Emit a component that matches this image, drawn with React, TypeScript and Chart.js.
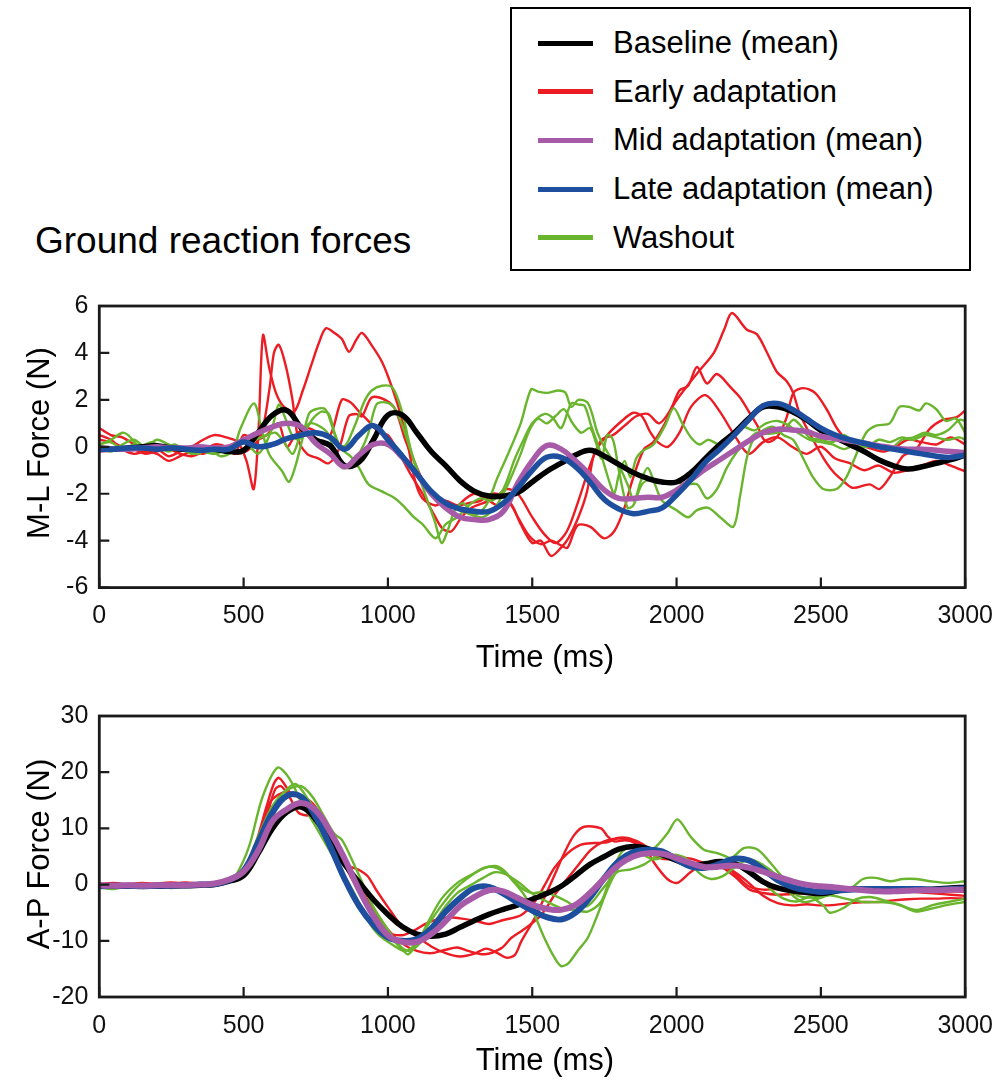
import React, { useEffect, useRef } from "react";
import { Chart, registerables } from "chart.js";
Chart.register(...registerables);

const FONT = "'Liberation Sans', Arial, Helvetica, sans-serif";

const TIME_MS = [0, 50, 100, 150, 200, 250, 300, 350, 400, 450, 500, 550, 600, 650, 700, 750, 800, 850, 900, 950,
  1000, 1050, 1100, 1150, 1200, 1250, 1300, 1350, 1400, 1450, 1500, 1550, 1600, 1650, 1700, 1750, 1800, 1850, 1900, 1950,
  2000, 2050, 2100, 2150, 2200, 2250, 2300, 2350, 2400, 2450, 2500, 2550, 2600, 2650, 2700, 2750, 2800, 2850, 2900, 2950, 3000];

const X_TICKS = [0, 500, 1000, 1500, 2000, 2500, 3000];
const ML_TICKS = [-6, -4, -2, 0, 2, 4, 6];
const AP_TICKS = [-20, -10, 0, 10, 20, 30];

const LEGEND_LABELS = ["Baseline (mean)", "Early adaptation", "Mid adaptation (mean)", "Late adaptation (mean)", "Washout"];
const COLORS = { base: "#000000", early: "#ec1c24", mid: "#a65aa8", late: "#1e4f9f", wash: "#6ab52e" };

// ---------- M-L force (N) ----------
const ML_BASELINE = [-0.05, -0.1, -0.05, 0, 0.05, -0.05, -0.1, -0.05, -0.1, -0.2, -0.15, 0.6, 1.35, 1.55, 0.8, 0.3, 0.05, -0.8, -0.65, 0.3,
  1.35, 1.35, 0.6, -0.2, -0.8, -1.45, -1.9, -2.1, -2.1, -1.95, -1.5, -1.05, -0.7, -0.35, -0.15, -0.4, -0.75, -1.1, -1.35, -1.5,
  -1.5, -1.1, -0.5, 0.1, 0.6, 1.2, 1.7, 1.7, 1.5, 1.15, 0.7, 0.4, 0.1, -0.2, -0.55, -0.8, -0.95, -0.85, -0.7, -0.55, -0.35];
const ML_MID = [-0.15, -0.1, -0.1, -0.05, 0, -0.05, -0.05, 0, -0.05, 0, 0.3, 0.6, 0.85, 1.0, 0.85, 0.15, -0.3, -0.85, -0.35, 0.1,
  0.1, -0.45, -1.15, -2.0, -2.6, -3.0, -3.1, -3.1, -2.75, -1.55, -0.6, 0.05, -0.1, -0.6, -1.2, -1.85, -2.2, -2.2, -2.15, -2.15,
  -1.85, -1.4, -0.95, -0.55, -0.15, 0.25, 0.6, 0.75, 0.72, 0.65, 0.45, 0.35, 0.25, 0.15, 0.05, -0.05, -0.1, -0.1, -0.15, -0.2, -0.25];
const ML_LATE = [-0.1, -0.1, -0.05, -0.05, -0.1, -0.05, -0.1, -0.15, -0.1, -0.1, 0.2, 0.0, 0.1, 0.35, 0.5, 0.6, 0.4, -0.1, 0.5, 0.9,
  0.3, -0.4, -1.15, -1.9, -2.4, -2.65, -2.75, -2.75, -2.4, -1.75, -1.0, -0.45, -0.45, -0.85, -1.5, -2.25, -2.65, -2.85, -2.75, -2.6,
  -2.05, -1.4, -0.65, -0.1, 0.5, 1.15, 1.75, 1.85, 1.6, 1.2, 0.8, 0.5, 0.3, 0.15, 0, -0.1, -0.2, -0.3, -0.4, -0.45, -0.35];

const ML_EARLY_1 = [[0, 0.8], [40, 0.5], [80, 0.4], [120, 0.1], [160, -0.2], [200, -0.1], [240, -0.4], [280, -0.2], [320, 0.0], [360, 0.3], [400, 0.5], [440, 0.4], [480, 0.2], [510, -0.6], [535, -1.8], [552, 0.8], [567, 4.75], [588, 3.4], [612, 2.3], [640, 1.7], [675, 1.5], [705, 2.4], [735, 3.5], [760, 4.4], [785, 5.05], [815, 4.85], [840, 4.6], [865, 4.05], [890, 4.55], [910, 4.85], [945, 4.3], [980, 3.6], [1015, 2.5], [1048, 1.2], [1072, -0.1], [1095, -1.5], [1120, -2.2], [1165, -2.5], [1200, -2.3], [1240, -2.5], [1280, -2.4], [1320, -2.3], [1360, -2.0], [1400, -2.1], [1430, -2.5], [1460, -3.3], [1500, -4.1], [1530, -4.0], [1565, -4.65], [1600, -4.3], [1625, -3.9], [1660, -3.0], [1690, -1.9], [1715, -0.3], [1760, 0.5], [1810, 1.1], [1850, 1.45], [1880, 1.3], [1910, 0.6], [1935, 0.2], [1970, 0.0], [2010, 0.6], [2050, 1.7], [2100, 2.2], [2150, 1.5], [2200, 0.5], [2250, -0.3], [2300, 0.2], [2350, 0.4], [2400, 0.0], [2450, -0.3], [2500, 0.0], [2550, -0.5], [2600, -0.7], [2650, -1.0], [2700, -0.8], [2750, -1.1], [2800, -1.0], [2850, -0.8], [2900, -0.6], [2950, -0.8], [3000, -1.05]];
const ML_EARLY_2 = [[0, 0.5], [40, 0.3], [80, -0.1], [120, -0.3], [160, -0.2], [200, -0.3], [240, -0.6], [280, -0.4], [320, -0.2], [360, -0.3], [400, -0.1], [440, -0.2], [480, -0.3], [520, -0.1], [560, 0.5], [590, 2.5], [605, 4.0], [622, 4.35], [645, 3.5], [668, 2.1], [690, 0.3], [720, -0.3], [760, -0.5], [795, -0.7], [830, -0.1], [864, 1.3], [890, 1.4], [910, 1.3], [944, 2.1], [990, 2.0], [1025, 1.6], [1060, 0.3], [1094, -0.7], [1140, -1.9], [1186, -2.4], [1230, -2.6], [1270, -2.2], [1300, -2.0], [1340, -2.2], [1380, -2.5], [1420, -2.4], [1450, -3.0], [1490, -3.8], [1530, -4.15], [1565, -4.0], [1600, -4.2], [1622, -4.3], [1657, -3.35], [1700, -3.4], [1749, -3.9], [1784, -3.6], [1818, -2.65], [1845, -1.5], [1887, -0.1], [1920, 0.2], [1960, 1.0], [1990, 1.8], [2037, 2.6], [2083, 3.3], [2129, 4.0], [2165, 5.0], [2192, 5.7], [2243, 5.0], [2278, 4.8], [2312, 4.05], [2347, 3.2], [2381, 2.8], [2404, 2.3], [2427, 1.4], [2473, 0.3], [2510, -0.5], [2542, -1.05], [2577, -1.45], [2611, -1.75], [2669, -1.6], [2703, -1.8], [2738, -1.3], [2784, -0.4], [2830, -0.1], [2876, 0.75], [2922, 1.15], [2968, 1.25], [3000, 1.55]];
const ML_EARLY_3 = [[0, 0.3], [40, 0.2], [80, 0.0], [120, -0.1], [160, -0.3], [200, -0.2], [240, -0.1], [280, -0.3], [320, -0.4], [360, -0.2], [400, 0.1], [440, 0.0], [470, -0.3], [500, 0.5], [540, 0.3], [580, 0.5], [620, 1.0], [650, 0.0], [680, 0.5], [720, 0.8], [760, 0.6], [800, 0.5], [840, 2.0], [870, 1.9], [900, 1.5], [940, 1.0], [970, 0.6], [1000, 0.5], [1040, -0.3], [1080, -1.2], [1120, -2.0], [1160, -2.9], [1190, -3.5], [1220, -3.6], [1255, -3.0], [1290, -2.6], [1330, -2.4], [1370, -2.2], [1410, -1.8], [1450, -2.0], [1500, -3.0], [1540, -3.7], [1580, -4.1], [1620, -3.6], [1660, -2.3], [1700, -0.8], [1740, 0.3], [1780, 0.5], [1820, 0.9], [1860, 1.3], [1900, 1.4], [1940, 1.0], [1980, 1.6], [2010, 2.4], [2040, 2.6], [2071, 3.4], [2105, 2.7], [2140, 3.1], [2186, 2.55], [2220, 2.1], [2255, 1.4], [2280, 0.9], [2300, 0.35], [2320, 0.2], [2350, 0.45], [2380, 1.2], [2405, 2.3], [2440, 2.5], [2480, 2.3], [2520, 1.6], [2555, 0.8], [2590, 0.3], [2630, 0.1], [2680, -0.1], [2720, -0.2], [2760, 0.0], [2800, 0.3], [2850, 0.2], [2900, 0.1], [2950, 0.4], [3000, 0.1]];

const ML_WASH_1 = [[0, 0.1], [40, 0.3], [80, 0.6], [100, 0.5], [140, 0.0], [180, 0.2], [220, -0.1], [260, 0.1], [300, -0.2], [340, -0.3], [380, -0.1], [420, -0.4], [460, -0.2], [490, 0.8], [536, 1.85], [565, 0.6], [590, -0.35], [634, -1.05], [657, -1.5], [680, -0.8], [703, 0.3], [726, 1.4], [750, 1.6], [783, 1.6], [806, 0.9], [829, 0.1], [852, 0.05], [875, 0.6], [898, 1.3], [921, 2.0], [944, 2.4], [979, 2.6], [1013, 2.55], [1036, 2.0], [1059, 1.0], [1071, 0.3], [1094, -0.8], [1117, -1.6], [1140, -2.4], [1163, -3.2], [1186, -4.1], [1209, -3.5], [1232, -2.7], [1260, -2.4], [1300, -2.9], [1340, -2.5], [1380, -1.3], [1420, -0.2], [1460, 1.0], [1496, 2.45], [1520, 2.35], [1555, 2.3], [1590, 2.4], [1615, 2.3], [1635, 1.7], [1660, 2.0], [1690, 1.9], [1705, 1.5], [1726, 0.6], [1750, 0.0], [1775, -0.5], [1800, -0.8], [1830, -1.6], [1853, -2.3], [1875, -1.5], [1900, -0.9], [1925, -1.6], [1950, -2.3], [2000, -2.7], [2040, -3.0], [2071, -2.7], [2110, -2.6], [2151, -3.0], [2197, -3.4], [2220, -2.1], [2243, -0.5], [2266, 0.3], [2300, 0.7], [2335, 0.85], [2370, 0.5], [2404, 0.3], [2439, -0.5], [2473, -1.3], [2508, -1.8], [2554, -1.8], [2588, -1.3], [2620, -0.4], [2657, 0.6], [2692, 0.9], [2738, 1.0], [2772, 1.7], [2805, 1.7], [2841, 1.55], [2864, 1.85], [2900, 1.6], [2933, 1.1], [2968, 1.2], [3000, 0.6]];
const ML_WASH_2 = [[0, 0.0], [40, -0.2], [80, 0.1], [120, 0.3], [160, 0.0], [200, 0.3], [240, 0.1], [280, -0.1], [320, 0.0], [360, -0.2], [400, -0.3], [440, -0.1], [480, 0.2], [500, 0.3], [530, -0.1], [550, -0.3], [575, 0.1], [600, 0.85], [622, 1.8], [645, 1.2], [668, 0.5], [690, 0.3], [715, 0.7], [740, 1.2], [770, 1.5], [795, 1.4], [815, 0.6], [840, -0.1], [870, -0.4], [900, -0.9], [933, -1.6], [979, -1.9], [1025, -2.2], [1060, -2.6], [1090, -3.0], [1120, -3.3], [1165, -3.9], [1200, -3.3], [1240, -3.0], [1280, -2.5], [1320, -2.2], [1360, -2.3], [1400, -1.8], [1440, -0.5], [1470, 0.3], [1500, 1.0], [1543, 1.4], [1570, 1.25], [1600, 0.8], [1635, 1.85], [1660, 1.8], [1681, 1.75], [1704, 0.9], [1730, 0.0], [1750, -0.8], [1770, -1.6], [1784, -2.0], [1800, -1.2], [1820, -0.6], [1840, -1.3], [1860, -0.5], [1880, -0.2], [1920, 0.1], [1960, 0.9], [1990, 1.65], [2020, 1.0], [2050, 0.4], [2080, 0.1], [2110, 0.3], [2150, 0.1], [2190, 0.5], [2230, 0.85], [2270, 0.7], [2310, 1.0], [2350, 1.1], [2390, 0.9], [2420, 0.6], [2460, 0.3], [2500, 0.2], [2540, 0.1], [2580, -0.1], [2620, 0.1], [2660, 0.2], [2700, 0.0], [2740, -0.1], [2780, 0.3], [2820, 0.4], [2860, 0.6], [2900, 0.5], [2940, 0.7], [2980, 1.15], [3000, 1.1]];
const ML_WASH_3 = [[0, 0.1], [40, 0.2], [80, -0.1], [120, 0.1], [160, -0.1], [200, 0.0], [240, -0.2], [280, 0.0], [320, -0.3], [360, -0.1], [400, -0.2], [440, -0.1], [470, 0.1], [500, 0.2], [540, 0.3], [580, 0.5], [610, 0.6], [640, 0.2], [670, -0.3], [700, 0.6], [730, 1.0], [760, 0.9], [790, 0.6], [815, -0.2], [840, -0.9], [870, -0.8], [900, -0.3], [930, 0.5], [960, 1.8], [990, 1.9], [1020, 1.7], [1050, 0.9], [1080, -0.2], [1110, -1.2], [1140, -1.9], [1170, -2.3], [1200, -2.5], [1250, -2.7], [1290, -2.9], [1330, -3.0], [1370, -2.6], [1400, -2.0], [1430, -1.2], [1460, -0.3], [1490, 0.7], [1520, 1.2], [1550, 1.0], [1580, 1.3], [1610, 1.6], [1640, 1.0], [1670, 0.6], [1700, 0.8], [1720, 0.2], [1740, -0.5], [1760, 0.5], [1780, 0.3], [1800, -1.0], [1830, -2.6], [1850, -2.5], [1880, -1.6], [1910, -1.4], [1950, -1.5], [1990, -1.5], [2030, -1.6], [2071, -1.6], [2105, -2.2], [2140, -1.8], [2174, -0.9], [2210, -0.2], [2243, 0.2], [2278, 0.6], [2320, 0.55], [2370, 0.7], [2404, 1.15], [2430, 0.9], [2460, 0.4], [2500, 0.3], [2540, 0.2], [2580, 0.5], [2620, 0.1], [2660, 0.0], [2700, 0.3], [2740, 0.2], [2780, 0.4], [2820, 0.3], [2860, 0.5], [2900, 0.4], [2940, 0.3], [2980, 0.4], [3000, 0.3]];

// ---------- A-P force (N) ----------
const AP_BASELINE = [-0.3, -0.2, -0.3, -0.2, -0.3, -0.2, -0.2, -0.1, 0.0, 0.6, 1.6, 5.5, 10.0, 12.9, 13.8, 11.6, 7.4, 3.6, 0.4, -2.7,
  -5.3, -7.5, -8.8, -9.2, -8.8, -7.6, -6.4, -5.3, -4.4, -3.6, -2.6, -1.6, -0.3, 1.6, 3.6, 5.0, 6.3, 6.8, 6.4, 5.3,
  4.3, 3.4, 3.7, 4.1, 3.8, 2.3, 0.5, -0.6, -1.1, -1.4, -1.6, -1.2, -0.8, -0.9, -1.0, -1.0, -1.0, -0.9, -0.8, -0.6, -0.5];
const AP_MID = [-0.1, -0.2, -0.1, -0.2, -0.1, -0.1, -0.1, 0.0, 0.2, 0.9, 2.3, 6.0, 11.3, 13.4, 14.5, 13.2, 9.4, 4.6, -0.9, -5.6,
  -9.0, -10.2, -10.2, -8.8, -6.5, -3.8, -2.2, -1.0, -1.2, -2.4, -3.6, -4.3, -4.5, -3.6, -1.5, 1.1, 3.5, 5.0, 5.6, 5.5,
  4.7, 3.8, 3.1, 3.2, 3.4, 3.0, 2.3, 1.4, 0.6, 0.0, -0.3, -0.5, -0.8, -1.0, -1.2, -1.2, -1.1, -1.0, -1.0, -0.9, -0.9];
const AP_LATE = [-0.3, -0.2, -0.2, -0.3, -0.2, -0.2, -0.1, 0.0, 0.1, 0.8, 2.5, 7.5, 12.8, 15.8, 15.6, 12.0, 6.8, 1.0, -3.8, -7.2,
  -9.4, -10.0, -9.7, -7.8, -4.8, -2.4, -0.6, -0.4, -1.6, -3.2, -4.6, -5.8, -6.2, -5.0, -2.3, 1.2, 4.2, 5.8, 6.2, 5.9,
  4.5, 3.2, 3.0, 3.7, 4.6, 4.3, 2.7, 0.8, -0.4, -1.0, -1.3, -1.1, -0.9, -0.8, -0.8, -0.8, -0.8, -0.8, -0.9, -0.8, -0.7];

const AP_EARLY_1 = [[0, 0.2], [50, -0.1], [100, 0.1], [150, 0.3], [200, 0.0], [250, 0.2], [300, 0.4], [350, 0.2], [400, 0.4], [450, 0.8], [500, 2.5], [540, 7.0], [580, 14.0], [605, 18.0], [622, 19.0], [645, 17.6], [670, 15.8], [700, 15.8], [740, 14.4], [780, 11.2], [820, 7.0], [860, 3.5], [900, 2.6], [930, 1.5], [960, -1.0], [1000, -4.0], [1050, -7.5], [1100, -9.2], [1150, -11.0], [1200, -12.2], [1250, -12.8], [1300, -12.3], [1340, -11.4], [1380, -12.2], [1410, -13.0], [1440, -12.5], [1462, -10.1], [1508, -6.0], [1545, -2.0], [1580, 2.0], [1610, 5.5], [1645, 8.8], [1680, 10.3], [1738, 10.0], [1761, 8.6], [1784, 7.7], [1820, 7.9], [1853, 7.6], [1890, 6.6], [1922, 3.9], [1968, 1.0], [2002, 0.3], [2048, 2.2], [2083, 3.3], [2130, 2.8], [2170, 3.2], [2210, 1.5], [2250, -0.3], [2300, -0.9], [2350, -0.8], [2400, -1.2], [2450, -1.0], [2500, -1.2], [2550, -1.0], [2600, -0.9], [2650, -1.1], [2700, -1.2], [2750, -1.1], [2800, -1.2], [2850, -1.4], [2900, -1.6], [2950, -1.8], [3000, -2.0]];
const AP_EARLY_2 = [[0, -0.2], [50, 0.1], [100, -0.1], [150, 0.2], [200, 0.1], [250, -0.1], [300, 0.2], [350, 0.1], [400, 0.3], [450, 0.6], [500, 1.8], [545, 6.5], [585, 13.0], [610, 17.0], [630, 17.5], [660, 15.5], [690, 12.8], [720, 12.3], [750, 12.5], [790, 9.5], [830, 5.5], [870, 1.5], [910, -2.0], [950, -5.5], [1000, -8.5], [1050, -9.0], [1090, -8.2], [1130, -7.0], [1170, -6.2], [1210, -5.8], [1250, -6.0], [1300, -6.4], [1350, -7.0], [1400, -6.3], [1462, -5.4], [1508, -3.1], [1542, -0.2], [1577, 3.0], [1623, 5.6], [1669, 7.1], [1715, 7.4], [1760, 7.5], [1795, 8.3], [1830, 8.3], [1876, 7.4], [1920, 6.0], [1960, 5.3], [2000, 5.0], [2050, 4.6], [2100, 3.8], [2150, 3.3], [2200, 1.5], [2250, -0.8], [2300, -1.5], [2350, -1.8], [2400, -1.7], [2450, -1.5], [2500, -1.6], [2550, -1.2], [2600, -0.8], [2650, -0.8], [2700, -0.7], [2750, -0.8], [2800, -0.9], [2850, -1.0], [2900, -1.1], [2950, -1.2], [3000, -1.3]];
const AP_EARLY_3 = [[0, 0.1], [50, 0.3], [100, 0.0], [150, -0.1], [200, 0.2], [250, 0.4], [300, 0.1], [350, 0.3], [400, 0.2], [450, 0.5], [500, 2.2], [550, 8.0], [590, 14.5], [620, 16.0], [650, 16.5], [680, 16.0], [710, 14.5], [750, 13.0], [790, 10.0], [830, 6.0], [870, 2.5], [910, -1.0], [950, -4.5], [1000, -8.0], [1050, -10.5], [1100, -11.8], [1150, -12.2], [1200, -11.6], [1240, -11.2], [1278, -11.8], [1335, -12.4], [1393, -11.3], [1427, -9.5], [1462, -8.3], [1496, -7.0], [1531, -5.4], [1577, -1.9], [1611, 0.4], [1657, 3.3], [1703, 6.2], [1749, 7.7], [1795, 8.2], [1830, 8.0], [1876, 6.8], [1910, 5.5], [1950, 4.6], [1990, 4.5], [2050, 4.0], [2100, 3.2], [2150, 3.3], [2200, 2.3], [2250, 0.3], [2300, -2.0], [2350, -3.3], [2400, -3.7], [2450, -3.5], [2500, -3.7], [2550, -3.6], [2600, -3.3], [2650, -3.1], [2700, -3.1], [2750, -2.8], [2800, -2.6], [2850, -2.5], [2900, -2.5], [2950, -2.4], [3000, -2.5]];

const AP_WASH_1 = [[0, -0.5], [50, -0.8], [100, -0.3], [150, -0.6], [200, -0.4], [250, -0.6], [300, -0.3], [350, -0.2], [400, 0.2], [450, 0.8], [473, 1.6], [519, 6.8], [565, 15.5], [617, 20.8], [657, 19.0], [703, 14.4], [749, 10.4], [795, 6.3], [841, 2.2], [887, -1.9], [933, -6.6], [967, -8.9], [1013, -10.6], [1059, -11.8], [1094, -10.6], [1140, -7.1], [1186, -3.7], [1232, -0.8], [1278, 1.2], [1324, 2.7], [1370, 3.3], [1400, 2.6], [1427, 1.0], [1473, -1.9], [1508, -5.4], [1542, -9.5], [1577, -13.0], [1600, -14.5], [1625, -14.0], [1657, -11.8], [1692, -9.5], [1726, -5.4], [1761, -0.8], [1795, 2.7], [1830, 5.1], [1876, 6.2], [1922, 6.5], [1968, 9.1], [2003, 11.6], [2049, 8.5], [2095, 6.2], [2141, 5.6], [2187, 4.6], [2233, 2.7], [2279, 1.6], [2325, -0.8], [2371, -2.5], [2417, -3.0], [2462, -2.2], [2508, -3.7], [2531, -5.0], [2577, -4.2], [2623, -2.6], [2670, -2.2], [2720, -2.8], [2780, -3.8], [2830, -4.8], [2880, -4.3], [2940, -3.6], [3000, -3.1]];
const AP_WASH_2 = [[0, -0.3], [50, 0.0], [100, -0.2], [150, 0.1], [200, -0.1], [250, 0.0], [300, -0.2], [350, 0.0], [400, 0.1], [450, 0.6], [500, 2.0], [565, 9.7], [600, 13.8], [640, 16.5], [680, 17.9], [726, 15.0], [772, 11.5], [818, 7.4], [864, 3.3], [910, -1.3], [956, -5.4], [1002, -8.9], [1048, -11.5], [1071, -12.4], [1105, -10.1], [1140, -6.6], [1186, -2.5], [1243, 0.4], [1301, 2.1], [1340, 3.1], [1380, 2.9], [1420, 1.5], [1460, -0.5], [1500, -1.5], [1540, -1.3], [1580, -2.0], [1620, -3.0], [1660, -4.2], [1700, -3.5], [1740, -1.0], [1780, 1.5], [1800, 2.4], [1842, 2.7], [1888, 3.6], [1930, 5.0], [1970, 5.5], [2010, 4.8], [2050, 3.8], [2090, 3.5], [2130, 3.6], [2187, 4.5], [2233, 6.5], [2279, 6.3], [2325, 3.9], [2371, 1.0], [2417, -1.9], [2462, -2.3], [2508, -1.9], [2554, -0.8], [2600, -0.8], [2646, 1.0], [2690, 1.2], [2740, 0.6], [2784, 1.0], [2830, 1.0], [2880, 0.6], [2940, 0.3], [3000, 0.6]];
const AP_WASH_3 = [[0, -0.4], [50, -0.2], [100, -0.5], [150, -0.2], [200, -0.3], [250, -0.1], [300, -0.3], [350, -0.1], [400, 0.0], [450, 0.5], [500, 2.5], [550, 8.5], [600, 14.0], [650, 16.8], [700, 17.5], [740, 15.5], [780, 12.0], [815, 9.0], [840, 8.0], [870, 5.0], [910, 0.5], [950, -4.0], [1000, -8.0], [1040, -10.8], [1070, -11.8], [1100, -11.0], [1140, -8.5], [1190, -4.5], [1240, -1.5], [1290, 0.0], [1330, 1.2], [1370, 2.2], [1410, 1.8], [1450, 0.5], [1508, -1.9], [1550, -3.0], [1600, -4.2], [1646, -4.5], [1692, -4.8], [1738, -3.1], [1772, 1.6], [1807, 5.6], [1840, 6.8], [1880, 5.5], [1920, 4.5], [1960, 5.0], [2000, 5.3], [2040, 4.4], [2080, 2.0], [2120, 1.0], [2160, 1.5], [2200, 3.0], [2250, 4.5], [2300, 3.5], [2350, 1.5], [2394, -1.5], [2440, -3.1], [2485, -2.6], [2531, -1.9], [2577, -2.4], [2646, -3.1], [2700, -3.1], [2760, -3.4], [2830, -4.5], [2890, -3.6], [2950, -3.0], [3000, -2.5]];

type Pair = number[];

function meanSet(values: number[], color: string, width: number) {
  return {
    data: values.map((v, i) => ({ x: TIME_MS[i], y: v })),
    borderColor: color,
    borderWidth: width,
    pointRadius: 0,
    tension: 0.4,
    borderCapStyle: "round",
    borderJoinStyle: "round",
    fill: false,
  };
}
function trialSet(pairs: Pair[], color: string) {
  return {
    data: pairs.map((p) => ({ x: p[0], y: p[1] })),
    borderColor: color,
    borderWidth: 2.4,
    pointRadius: 0,
    tension: 0.3,
    borderCapStyle: "round",
    borderJoinStyle: "round",
    fill: false,
  };
}

const framePlugin = {
  id: "frameTicks",
  afterDatasetsDraw(chart: any) {
    const { ctx, chartArea: a, scales } = chart;
    const xs = scales.x;
    const ys = scales.y;
    ctx.save();
    ctx.strokeStyle = "#1a1a1a";
    ctx.lineWidth = 2.2;
    ctx.beginPath();
    xs.ticks.forEach((t: any) => {
      const px = xs.getPixelForValue(t.value);
      ctx.moveTo(px, a.bottom);
      ctx.lineTo(px, a.bottom - 10);
    });
    ys.ticks.forEach((t: any) => {
      const py = ys.getPixelForValue(t.value);
      ctx.moveTo(a.left, py);
      ctx.lineTo(a.left + 10, py);
    });
    ctx.stroke();
    ctx.lineWidth = 2.8;
    ctx.strokeRect(a.left, a.top, a.right - a.left, a.bottom - a.top);
    ctx.restore();
  },
};

function ForceChart(props: {
  top: number; height: number; padTop: number; plotH: number;
  yMin: number; yMax: number; yTicks: number[]; datasets: any[];
}) {
  const ref = useRef<HTMLCanvasElement | null>(null);
  useEffect(() => {
    if (!ref.current) return;
    const xH = props.height - props.padTop - props.plotH;
    const chart = new Chart(ref.current, {
      type: "line",
      data: { datasets: props.datasets },
      options: {
        animation: false,
        responsive: false,
        devicePixelRatio: 1,
        parsing: false as any,
        normalized: true,
        layout: { padding: { left: 0, right: 38, top: props.padTop, bottom: 0 } },
        plugins: { legend: { display: false }, tooltip: { enabled: false } },
        scales: {
          x: {
            type: "linear",
            min: 0,
            max: 3000,
            afterBuildTicks: (s: any) => { s.ticks = X_TICKS.map((v) => ({ value: v })); },
            afterFit: (s: any) => { s.height = xH; },
            grid: { display: false, drawTicks: false },
            border: { display: false },
            ticks: {
              autoSkip: false, maxRotation: 0, padding: 14, color: "#111",
              font: { family: FONT, size: 25 },
              callback: (v: any) => String(v),
            },
          },
          y: {
            type: "linear",
            min: props.yMin,
            max: props.yMax,
            afterBuildTicks: (s: any) => { s.ticks = props.yTicks.map((v) => ({ value: v })); },
            afterFit: (s: any) => { s.width = 99.3; },
            grid: { display: false, drawTicks: false },
            border: { display: false },
            ticks: {
              autoSkip: false, padding: 11, color: "#111",
              font: { family: FONT, size: 25 },
              callback: (v: any) => String(v),
            },
          },
        },
      } as any,
      plugins: [framePlugin],
    });
    return () => chart.destroy();
  }, []);
  return (
    <canvas
      ref={ref}
      width={1007}
      height={props.height}
      style={{ position: "absolute", left: 0, top: props.top, width: 1007, height: props.height }}
    />
  );
}

const textBase: React.CSSProperties = {
  position: "absolute",
  fontFamily: FONT,
  color: "#000",
  lineHeight: 1,
  whiteSpace: "nowrap",
};

export default function App() {
  const mlSets = [
    meanSet(ML_LATE, COLORS.late, 5.5),
    meanSet(ML_MID, COLORS.mid, 5.5),
    meanSet(ML_BASELINE, COLORS.base, 5.5),
    trialSet(ML_WASH_1, COLORS.wash),
    trialSet(ML_WASH_2, COLORS.wash),
    trialSet(ML_WASH_3, COLORS.wash),
    trialSet(ML_EARLY_1, COLORS.early),
    trialSet(ML_EARLY_2, COLORS.early),
    trialSet(ML_EARLY_3, COLORS.early),
  ];
  const apSets = [
    meanSet(AP_MID, COLORS.mid, 6),
    meanSet(AP_LATE, COLORS.late, 6),
    meanSet(AP_BASELINE, COLORS.base, 5.5),
    trialSet(AP_WASH_1, COLORS.wash),
    trialSet(AP_WASH_2, COLORS.wash),
    trialSet(AP_WASH_3, COLORS.wash),
    trialSet(AP_EARLY_1, COLORS.early),
    trialSet(AP_EARLY_2, COLORS.early),
    trialSet(AP_EARLY_3, COLORS.early),
  ];
  const legendColors = [COLORS.base, COLORS.early, COLORS.mid, COLORS.late, COLORS.wash];
  return (
    <div style={{ position: "absolute", left: 0, top: 0, width: 1007, height: 1081, background: "#fff", overflow: "hidden" }}>
      <div style={{ ...textBase, left: 35, top: 222, fontSize: 37 }}>Ground reaction forces</div>

      <div style={{ position: "absolute", left: 510, top: 7, width: 461, height: 264, border: "2.8px solid #000", boxSizing: "border-box" }} />
      {LEGEND_LABELS.map((label, i) => {
        const cy = 43 + i * 48.7;
        return (
          <React.Fragment key={label}>
            <div style={{ position: "absolute", left: 538, top: cy - 2.5, width: 55, height: 5, background: legendColors[i] }} />
            <div style={{ ...textBase, left: 613, top: cy - 16, fontSize: 31 }}>{label}</div>
          </React.Fragment>
        );
      })}

      <ForceChart top={280} height={400} padTop={18.4} plotH={289.2} yMin={-6} yMax={6} yTicks={ML_TICKS} datasets={mlSets} />
      <ForceChart top={690} height={391} padTop={20.4} plotH={286.6} yMin={-20} yMax={30} yTicks={AP_TICKS} datasets={apSets} />

      <div style={{ ...textBase, left: 545, top: 641.3, fontSize: 31, transform: "translateX(-50%)" }}>Time (ms)</div>
      <div style={{ ...textBase, left: 545, top: 1044, fontSize: 31, transform: "translateX(-50%)" }}>Time (ms)</div>
      <div style={{ ...textBase, left: 38, top: 443, fontSize: 31, transform: "translate(-50%, -50%) rotate(-90deg)" }}>M-L Force (N)</div>
      <div style={{ ...textBase, left: 38, top: 854, fontSize: 31, transform: "translate(-50%, -50%) rotate(-90deg)" }}>A-P Force (N)</div>
    </div>
  );
}
